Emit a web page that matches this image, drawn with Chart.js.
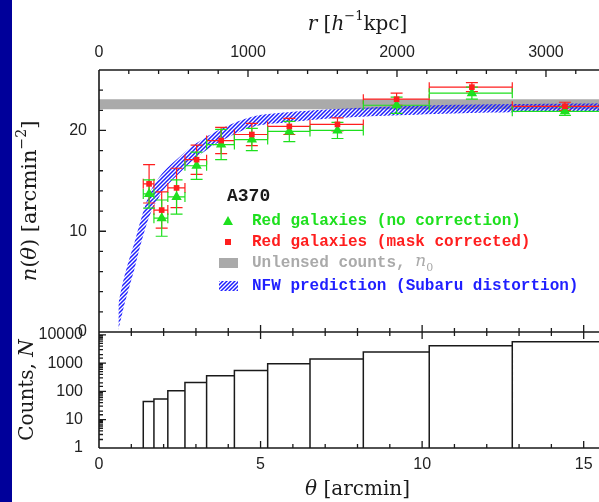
<!DOCTYPE html>
<html>
<head>
<meta charset="utf-8">
<script src="https://cdn.jsdelivr.net/npm/chart.js@4.4.1/dist/chart.umd.min.js"></script>
<style>
  html, body { margin:0; padding:0; background:#fff; overflow:hidden; }
  #wrap { position:relative; width:599px; height:502px; overflow:hidden; }
  #strip { position:absolute; left:0; top:0; width:12px; height:502px; background:#00009a; }
  #plot { position:absolute; left:0; top:0; }
</style>
</head>
<body>
<div id="wrap">
  <div id="strip"></div>
  <canvas id="plot" width="640" height="502"></canvas>
</div>
<script>
// histogram of galaxy counts, bin edges in arcmin
var bin_edges = [1.37, 1.70, 2.13, 2.66, 3.33, 4.19, 5.22, 6.53, 8.18, 10.22, 12.79, 16.0];
var bin_counts = [44, 54, 105, 208, 359, 550, 950, 1400, 2460, 4120, 5700];

// number density points, one per bin
var point_theta = [1.55, 1.94, 2.40, 3.02, 3.78, 4.73, 5.89, 7.38, 9.21, 11.54, 14.42];
var green_n   = [13.7, 11.3, 13.4, 16.5, 18.6, 19.1, 19.9, 20.0, 22.5, 23.7, 21.9];
var green_err = [1.4, 1.8, 1.7, 1.35, 1.5, 1.1, 1.0, 0.8, 0.8, 0.6, 0.4];
var red_n     = [14.7, 12.1, 14.3, 17.1, 19.0, 19.6, 20.4, 20.6, 23.1, 24.3, 22.4];
var red_err   = [1.9, 1.8, 1.95, 1.45, 1.3, 1.1, 0.8, 0.65, 0.6, 0.45, 0.4];

// NFW prediction band (lower / upper edge)
var nfw_theta = [0.60, 0.70, 0.80, 0.95, 1.10, 1.30, 1.60, 2.00, 2.50, 3.00, 3.80, 4.80, 6.00, 7.50, 9.30, 11.5, 14.0, 16.0];
var nfw_low   = [0.2, 1.6, 2.9, 4.6, 6.3, 8.8, 11.8, 14.1, 15.8, 17.3, 19.0, 20.4, 20.85, 21.25, 21.5, 21.73, 21.85, 21.9];
var nfw_high  = [2.8, 4.4, 5.7, 7.4, 8.9, 11.2, 14.0, 15.9, 17.4, 18.7, 20.2, 21.4, 21.85, 22.15, 22.4, 22.57, 22.65, 22.7];

// unlensed counts n0
var n0_low = 22.1;
var n0_high = 23.1;

// labelled ticks
var theta_labels = [0, 5, 10, 15];
var r_labels = [0, 1000, 2000, 3000];
var n_labels = [0, 10, 20];
var count_labels = [1, 10, 100, 1000, 10000];

var THETA_MAX = 16;
var R_MAX = 3470;   // kpc/h at theta = 16'

var GREEN = '#1ee01e';
var RED = '#ff1e1e';
var GRAY = '#aaaaaa';
var BLUE = '#1f1fff';
var INK = '#1a1a1a';

var canvas = document.getElementById('plot');
var ctx0 = canvas.getContext('2d');

function makeHatch() {
  var c = document.createElement('canvas');
  c.width = 4; c.height = 4;
  var g = c.getContext('2d');
  g.strokeStyle = BLUE;
  g.lineWidth = 1.5;
  g.beginPath();
  g.moveTo(0, 4); g.lineTo(4, 0);
  g.moveTo(-1, 1); g.lineTo(1, -1);
  g.moveTo(3, 5); g.lineTo(5, 3);
  g.stroke();
  return ctx0.createPattern(c, 'repeat');
}
var hatch = makeHatch();

function isIn(list, v) {
  for (var i = 0; i < list.length; i++) {
    if (Math.abs(list[i] - v) < 1e-6 * Math.max(1, list[i])) return true;
  }
  return false;
}

// histogram outline, rectangle by rectangle
var hist_pts = [];
for (var b = 0; b < bin_counts.length; b++) {
  hist_pts.push({x: bin_edges[b], y: 1});
  hist_pts.push({x: bin_edges[b], y: bin_counts[b]});
  hist_pts.push({x: bin_edges[b + 1], y: bin_counts[b]});
  hist_pts.push({x: bin_edges[b + 1], y: 1});
}

function pts(xs, ys) {
  return xs.map(function(x, i) { return {x: x, y: ys[i]}; });
}

// error bars, drawn just before the green markers
var errorBars = {
  id: 'errorBars',
  beforeDatasetDraw: function(chart, args) {
    if (args.index !== 5) return;
    var ctx = chart.ctx, xs = chart.scales.x, ys = chart.scales.y;
    var sets = [[red_n, red_err, RED], [green_n, green_err, GREEN]];
    ctx.save();
    ctx.lineWidth = 1.2;
    sets.forEach(function(s) {
      ctx.strokeStyle = s[2];
      ctx.beginPath();
      for (var i = 0; i < point_theta.length; i++) {
        var px = xs.getPixelForValue(point_theta[i]);
        var py = ys.getPixelForValue(s[0][i]);
        var top = ys.getPixelForValue(s[0][i] + s[1][i]);
        var bot = ys.getPixelForValue(s[0][i] - s[1][i]);
        var x1 = xs.getPixelForValue(bin_edges[i]);
        var x2 = xs.getPixelForValue(bin_edges[i + 1]);
        ctx.moveTo(px, top); ctx.lineTo(px, bot);
        ctx.moveTo(px - 6, top); ctx.lineTo(px + 6, top);
        ctx.moveTo(px - 6, bot); ctx.lineTo(px + 6, bot);
        ctx.moveTo(x1, py); ctx.lineTo(x2, py);
        ctx.moveTo(x1, py - 5); ctx.lineTo(x1, py + 5);
        ctx.moveTo(x2, py - 5); ctx.lineTo(x2, py + 5);
      }
      ctx.stroke();
    });
    ctx.restore();
  }
};

// frame and inward ticks
var frame = {
  id: 'frame',
  afterDatasetsDraw: function(chart) {
    var ctx = chart.ctx, a = chart.chartArea;
    var xs = chart.scales.x, x2 = chart.scales.x2, ys = chart.scales.y, yc = chart.scales.yc;
    var mid = ys.bottom;
    ctx.save();
    ctx.strokeStyle = INK;
    ctx.lineWidth = 1.6;
    ctx.beginPath();
    ctx.moveTo(a.left, a.top); ctx.lineTo(a.right, a.top);
    ctx.moveTo(a.left, mid); ctx.lineTo(a.right, mid);
    ctx.moveTo(a.left, a.bottom); ctx.lineTo(a.right, a.bottom);
    ctx.moveTo(a.left, a.top); ctx.lineTo(a.left, a.bottom);
    ctx.stroke();
    ctx.lineWidth = 1.3;
    ctx.beginPath();
    xs.ticks.forEach(function(t) {
      var p = xs.getPixelForValue(t.value);
      if (p <= a.left + 1 || p >= a.right - 1) return;
      var len = isIn(theta_labels, t.value) ? 7 : 4;
      ctx.moveTo(p, mid); ctx.lineTo(p, mid - len);
      ctx.moveTo(p, mid); ctx.lineTo(p, mid + len);
      ctx.moveTo(p, a.bottom); ctx.lineTo(p, a.bottom - len);
    });
    x2.ticks.forEach(function(t) {
      var p = x2.getPixelForValue(t.value);
      if (p <= a.left + 1 || p >= a.right - 1) return;
      var len = isIn(r_labels, t.value) ? 7 : 4;
      ctx.moveTo(p, a.top); ctx.lineTo(p, a.top + len);
    });
    ys.ticks.forEach(function(t) {
      var p = ys.getPixelForValue(t.value);
      if (p <= ys.top + 1 || p >= ys.bottom - 1) return;
      var len = isIn(n_labels, t.value) ? 7 : 4;
      ctx.moveTo(a.left, p); ctx.lineTo(a.left + len, p);
    });
    yc.ticks.forEach(function(t) {
      var p = yc.getPixelForValue(t.value);
      if (p <= yc.top + 1 || p >= yc.bottom - 1) return;
      var len = isIn(count_labels, t.value) ? 7 : 4;
      ctx.moveTo(a.left, p); ctx.lineTo(a.left + len, p);
    });
    ctx.stroke();
    ctx.restore();
  }
};

// axis titles with italic symbols and superscripts
function drawRich(ctx, parts, cx, cy, angle, size) {
  var fam = '"DejaVu Serif"';
  function fontOf(st) {
    if (st === 'i') return 'italic ' + size + 'px ' + fam;
    if (st === 's') return Math.round(size * 0.65) + 'px ' + fam;
    return size + 'px ' + fam;
  }
  ctx.save();
  ctx.translate(cx, cy);
  ctx.rotate(angle);
  ctx.textBaseline = 'middle';
  ctx.textAlign = 'left';
  ctx.fillStyle = INK;
  var w = 0;
  parts.forEach(function(p) { ctx.font = fontOf(p[1]); w += ctx.measureText(p[0]).width; });
  var x = -w / 2;
  parts.forEach(function(p) {
    ctx.font = fontOf(p[1]);
    ctx.fillText(p[0], x, p[1] === 's' ? -size * 0.4 : 0);
    x += ctx.measureText(p[0]).width;
  });
  ctx.restore();
}

var titles = {
  id: 'titles',
  afterDraw: function(chart) {
    var ctx = chart.ctx, a = chart.chartArea, ys = chart.scales.y, yc = chart.scales.yc;
    var cx = (a.left + a.right) / 2;
    drawRich(ctx, [['r', 'i'], [' [', 'u'], ['h', 'i'], ['\u22121', 's'], ['kpc]', 'u']], cx, 25, 0, 20);
    drawRich(ctx, [['\u03b8', 'i'], [' [arcmin]', 'u']], cx, 490, 0, 20);
    drawRich(ctx, [['n', 'i'], ['(', 'u'], ['\u03b8', 'i'], [') [arcmin', 'u'], ['\u22122', 's'], [']', 'u']],
             31, (ys.top + ys.bottom) / 2, -Math.PI / 2, 21);
    drawRich(ctx, [['Counts, ', 'u'], ['N', 'i']], 28, (yc.top + yc.bottom) / 2, -Math.PI / 2, 20);
  }
};

// legend block inside the upper panel
var legendBox = {
  id: 'legendBox',
  afterDraw: function(chart) {
    var ctx = chart.ctx;
    var mx = 228, tx = 252;
    var rows = [221, 242, 263, 286];
    ctx.save();
    ctx.textBaseline = 'middle';
    ctx.textAlign = 'left';
    ctx.fillStyle = INK;
    ctx.font = 'bold 18px "Liberation Mono"';
    ctx.fillText('A370', 227, 196);

    ctx.font = 'bold 16px "Liberation Mono"';
    // triangle
    ctx.fillStyle = GREEN;
    ctx.beginPath();
    ctx.moveTo(mx, rows[0] - 5); ctx.lineTo(mx + 5, rows[0] + 4); ctx.lineTo(mx - 5, rows[0] + 4);
    ctx.closePath(); ctx.fill();
    ctx.fillText('Red galaxies (no correction)', tx, rows[0]);
    // square
    ctx.fillStyle = RED;
    ctx.fillRect(mx - 3, rows[1] - 3, 6, 6);
    ctx.fillText('Red galaxies (mask corrected)', tx, rows[1]);
    // gray swatch
    ctx.fillStyle = GRAY;
    ctx.fillRect(219, rows[2] - 5, 19, 10);
    var s = 'Unlensed counts, ';
    ctx.fillText(s, tx, rows[2]);
    var w = ctx.measureText(s).width;
    ctx.font = 'italic 17px "DejaVu Serif"';
    ctx.fillText('n', tx + w, rows[2] - 1);
    var wn = ctx.measureText('n').width;
    ctx.font = '11px "DejaVu Serif"';
    ctx.fillText('0', tx + w + wn, rows[2] + 5);
    // hatched swatch
    ctx.fillStyle = hatch;
    ctx.fillRect(219, rows[3] - 5, 19, 10);
    ctx.fillStyle = BLUE;
    ctx.font = 'bold 16px "Liberation Mono"';
    ctx.fillText('NFW prediction (Subaru distortion)', tx, rows[3]);
    ctx.restore();
  }
};

var tickFont = {family: '"Liberation Sans"', size: 16};

var chart = new Chart(canvas, {
  type: 'scatter',
  data: {
    datasets: [
      {type: 'line', data: [{x: 0, y: n0_low}, {x: THETA_MAX, y: n0_low}], yAxisID: 'y',
       borderWidth: 0, pointRadius: 0, fill: false, order: 10},
      {type: 'line', data: [{x: 0, y: n0_high}, {x: THETA_MAX, y: n0_high}], yAxisID: 'y',
       borderWidth: 0, pointRadius: 0, fill: '-1', backgroundColor: GRAY, order: 9},
      {type: 'line', data: pts(nfw_theta, nfw_low), yAxisID: 'y',
       borderWidth: 0, pointRadius: 0, fill: false, tension: 0.3, order: 8},
      {type: 'line', data: pts(nfw_theta, nfw_high), yAxisID: 'y',
       borderWidth: 0, pointRadius: 0, fill: '-1', backgroundColor: hatch, tension: 0.3, order: 7},
      {type: 'line', data: hist_pts, yAxisID: 'yc', borderColor: INK, borderWidth: 1.5,
       pointRadius: 0, fill: false, tension: 0, order: 5},
      {data: pts(point_theta, green_n), yAxisID: 'y', pointStyle: 'triangle', pointRadius: 6,
       backgroundColor: GREEN, borderColor: GREEN, borderWidth: 0, order: 2},
      {data: pts(point_theta, red_n), yAxisID: 'y', pointStyle: 'rect', pointRadius: 4,
       backgroundColor: RED, borderColor: RED, borderWidth: 0, order: 1}
    ]
  },
  options: {
    responsive: false,
    animation: false,
    events: [],
    layout: {padding: {left: 0, top: 0, right: 24, bottom: 0}},
    plugins: {legend: {display: false}, tooltip: {enabled: false}},
    scales: {
      x: {
        type: 'linear', position: 'bottom', min: 0, max: THETA_MAX,
        afterFit: function(s) { s.height = 54; },
        grid: {display: false, drawTicks: false}, border: {display: false},
        ticks: {stepSize: 1, autoSkip: false, maxRotation: 0, padding: 7, font: tickFont, color: '#222',
                callback: function(v) { return isIn(theta_labels, v) ? String(v) : ''; }}
      },
      x2: {
        type: 'linear', position: 'top', min: 0, max: R_MAX,
        afterFit: function(s) { s.height = 70; },
        grid: {display: false, drawTicks: false}, border: {display: false},
        ticks: {stepSize: 200, autoSkip: false, maxRotation: 0, padding: 8, font: tickFont, color: '#222',
                callback: function(v) { return isIn(r_labels, v) ? String(v) : ''; }}
      },
      // stacked left axes: listed bottom panel first, it is placed lowest
      yc: {
        type: 'logarithmic', position: 'left', stack: 'panels', stackWeight: 116, min: 1, max: 12600,
        afterFit: function(s) { s.width = 99; },
        grid: {display: false, drawTicks: false}, border: {display: false},
        ticks: {autoSkip: false, padding: 16, font: tickFont, color: '#222',
                callback: function(v) { return isIn(count_labels, v) ? String(v) : ''; }}
      },
      y: {
        type: 'linear', position: 'left', stack: 'panels', stackWeight: 262, min: 0, max: 26,
        afterFit: function(s) { s.width = 99; },
        grid: {display: false, drawTicks: false}, border: {display: false},
        ticks: {stepSize: 2, autoSkip: false, padding: 12, font: tickFont, color: '#222',
                callback: function(v) { return isIn(n_labels, v) ? String(v) : ''; }}
      }
    }
  },
  plugins: [errorBars, frame, titles, legendBox]
});
</script>
</body>
</html>
